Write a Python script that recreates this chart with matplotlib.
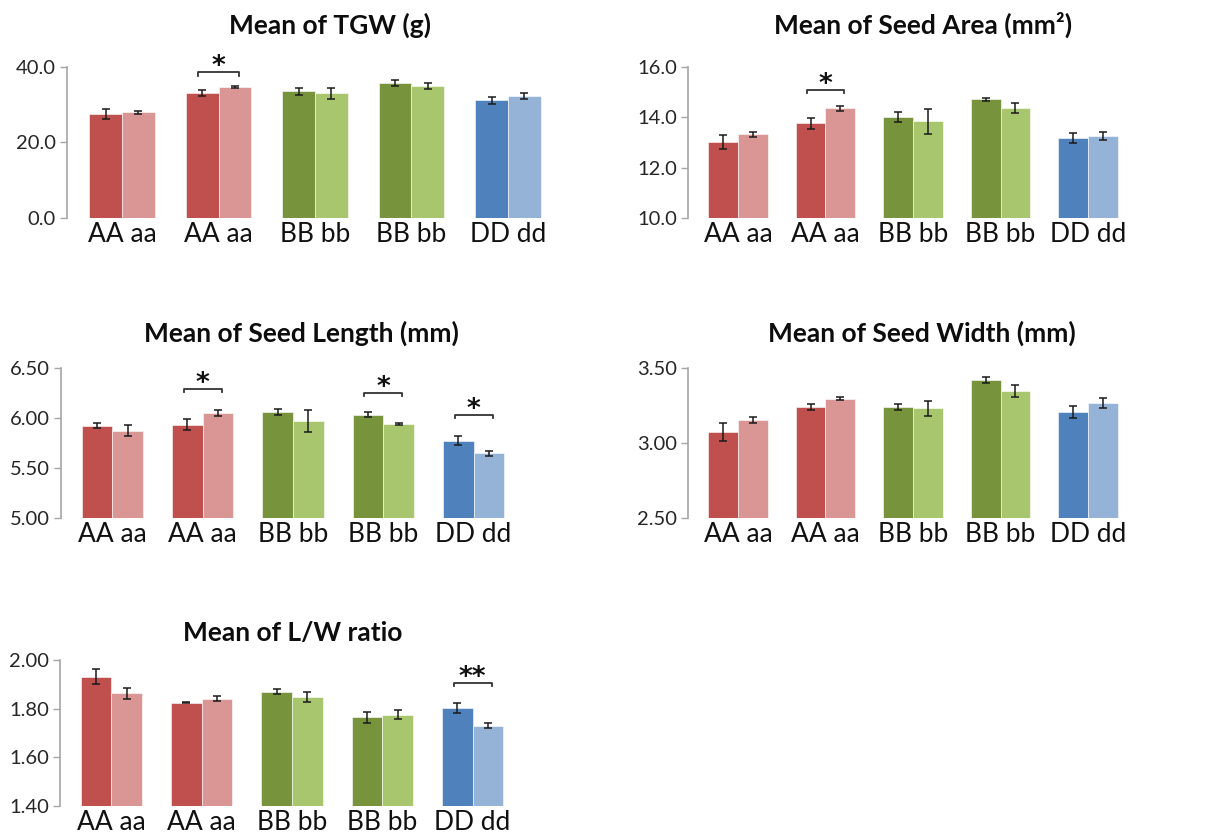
import matplotlib
matplotlib.use("Agg")
import matplotlib.pyplot as plt
import numpy as np

plt.rcParams['font.family'] = ['Lato', 'DejaVu Sans']

# Genotype groups along the x axis
groups = ["AA aa", "AA aa", "BB bb", "BB bb", "DD dd"]

# Bar colours: dominant (dark) and recessive (light) genotype per group
dark_colors = ["#C0504D", "#C0504D", "#77933C", "#77933C", "#4F81BD"]
light_colors = ["#DA9694", "#DA9694", "#A8C66E", "#A8C66E", "#95B3D7"]

# Thousand grain weight (g)
tgw_dark = [27.6, 33.0, 33.5, 35.7, 31.2]
tgw_light = [28.0, 34.7, 33.0, 34.9, 32.3]
tgw_dark_err = [1.3, 0.8, 0.9, 0.75, 0.9]
tgw_light_err = [0.35, 0.3, 1.4, 0.8, 0.8]

# Seed area (mm2)
area_dark = [13.03, 13.76, 14.02, 14.71, 13.19]
area_light = [13.32, 14.36, 13.84, 14.36, 13.25]
area_dark_err = [0.28, 0.22, 0.21, 0.05, 0.19]
area_light_err = [0.09, 0.09, 0.50, 0.20, 0.17]

# Seed length (mm)
length_dark = [5.923, 5.933, 6.059, 6.029, 5.773]
length_light = [5.873, 6.045, 5.969, 5.939, 5.644]
length_dark_err = [0.023, 0.055, 0.030, 0.025, 0.043]
length_light_err = [0.053, 0.028, 0.113, 0.007, 0.028]

# Seed width (mm)
width_dark = [3.071, 3.241, 3.237, 3.418, 3.206]
width_light = [3.150, 3.292, 3.230, 3.347, 3.265]
width_dark_err = [0.059, 0.020, 0.021, 0.023, 0.041]
width_light_err = [0.020, 0.010, 0.050, 0.041, 0.031]

# Length / width ratio
lw_dark = [1.933, 1.825, 1.871, 1.765, 1.803]
lw_light = [1.864, 1.842, 1.849, 1.776, 1.730]
lw_dark_err = [0.031, 0.002, 0.011, 0.022, 0.019]
lw_light_err = [0.023, 0.012, 0.022, 0.019, 0.011]

# Significance brackets: (group index, bracket height, label)
tgw_sig = [(1, 38.6, "*")]
area_sig = [(1, 15.09, "*")]
length_sig = [(1, 6.288, "*"), (3, 6.251, "*"), (4, 6.029, "*")]
width_sig = []
lw_sig = [(4, 1.908, "**")]

W, H = 1222, 840
fig = plt.figure(figsize=(W / 100, H / 100), dpi=100)


def add_axes_px(left, top, right, bottom):
    return fig.add_axes([left / W, 1 - bottom / H, (right - left) / W, (bottom - top) / H])


BAR_W = 0.34
GREY = "#A6A6A6"


def panel(box, title, title_xy, dark, light, dark_err, light_err,
          ylim, yticks, fmt, sig):
    ax = add_axes_px(*box)
    x = np.arange(len(groups))
    ax.bar(x - BAR_W / 2, dark, BAR_W, color=dark_colors,
           edgecolor="white", linewidth=0.4, zorder=2)
    ax.bar(x + BAR_W / 2, light, BAR_W, color=light_colors,
           edgecolor="white", linewidth=0.4, zorder=2)
    ax.errorbar(x - BAR_W / 2, dark, yerr=dark_err, fmt="none", ecolor="#1a1a1a",
                elinewidth=1.1, capsize=3.2, capthick=1.1, zorder=3)
    ax.errorbar(x + BAR_W / 2, light, yerr=light_err, fmt="none", ecolor="#1a1a1a",
                elinewidth=1.1, capsize=3.2, capthick=1.1, zorder=3)
    ax.set_xlim(-0.57, len(groups) - 1 + 0.57)
    ax.set_ylim(*ylim)
    ax.set_yticks(yticks)
    ax.set_yticklabels([fmt.format(v) for v in yticks], fontsize=14.5, color="#262626")
    ax.set_xticks(x)
    ax.set_xticklabels(groups, fontsize=19, color="#111111")
    ax.tick_params(axis="x", length=0, pad=3)
    ax.tick_params(axis="y", length=5, width=1, color=GREY, pad=3)
    for s in ("top", "right", "bottom"):
        ax.spines[s].set_visible(False)
    ax.spines["left"].set_color(GREY)
    ax.spines["left"].set_linewidth(1.2)
    span = ylim[1] - ylim[0]
    for gi, yb, label in sig:
        x0 = gi - BAR_W / 2 - 0.04
        x1 = gi + BAR_W / 2 + 0.04
        tick = 0.022 * span
        ax.plot([x0, x0, x1, x1], [yb - tick, yb, yb, yb - tick],
                color="#333333", lw=1.3, clip_on=False, zorder=4)
        ax.annotate(label, (gi, yb), xytext=(0, -1.5), textcoords="offset points",
                    ha="center", va="baseline", fontsize=19, fontweight="bold",
                    family="DejaVu Sans", color="#111111", annotation_clip=False)
    fig.text(title_xy[0] / W, 1 - title_xy[1] / H, title, ha="center", va="center",
             fontsize=19, fontweight="bold", color="#0d0d0d")
    return ax


panel((67, 67, 563, 217.7), "Mean of TGW (g)", (330, 25),
      tgw_dark, tgw_light, tgw_dark_err, tgw_light_err,
      (0, 40), [0, 20, 40], "{:.1f}", tgw_sig)
panel((688, 67, 1138, 218), "Mean of Seed Area (mm²)", (923, 25),
      area_dark, area_light, area_dark_err, area_light_err,
      (10, 16), [10, 12, 14, 16], "{:.1f}", area_sig)
panel((61, 367.7, 525, 518), "Mean of Seed Length (mm)", (301, 333),
      length_dark, length_light, length_dark_err, length_light_err,
      (5.0, 6.5), [5.0, 5.5, 6.0, 6.5], "{:.2f}", length_sig)
panel((688, 367.7, 1138, 518), "Mean of Seed Width (mm)", (922, 333),
      width_dark, width_light, width_dark_err, width_light_err,
      (2.5, 3.5), [2.5, 3.0, 3.5], "{:.2f}", width_sig)
panel((60, 660.3, 524, 805.7), "Mean of L/W ratio", (293, 633),
      lw_dark, lw_light, lw_dark_err, lw_light_err,
      (1.4, 2.0), [1.4, 1.6, 1.8, 2.0], "{:.2f}", lw_sig)

fig.savefig("out.png", dpi=100, facecolor="white")
